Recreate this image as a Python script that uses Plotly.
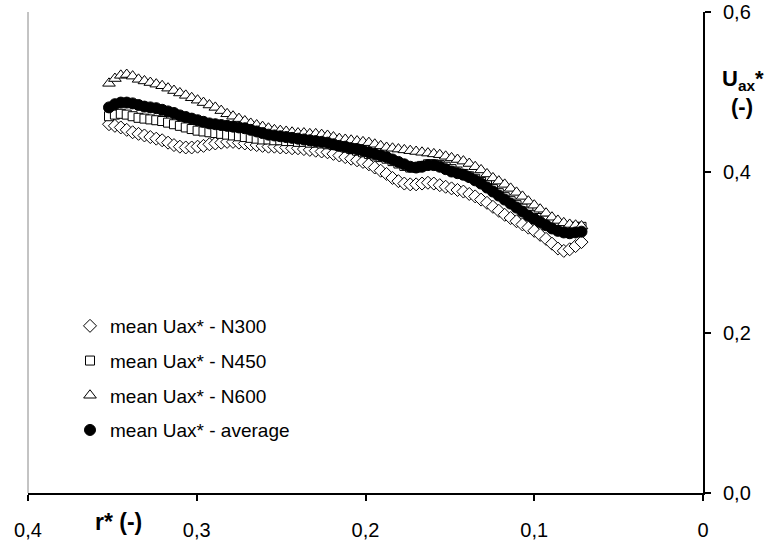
import plotly.graph_objects as go

# radial position r* (-)
r_star = [0.352, 0.3485, 0.345, 0.3415, 0.338, 0.3345, 0.331, 0.3275, 0.324, 0.3205,
          0.317, 0.3135, 0.310, 0.3065, 0.303, 0.2995, 0.296, 0.2925, 0.289, 0.2855,
          0.282, 0.2785, 0.275, 0.2715, 0.268, 0.2645, 0.261, 0.2575, 0.254, 0.2505,
          0.247, 0.2435, 0.240, 0.2365, 0.233, 0.2295, 0.226, 0.2225, 0.219, 0.2155,
          0.212, 0.2085, 0.205, 0.2015, 0.198, 0.1945, 0.191, 0.1875, 0.184, 0.1805,
          0.177, 0.1735, 0.170, 0.1665, 0.163, 0.1595, 0.156, 0.1525, 0.149, 0.1455,
          0.142, 0.1385, 0.135, 0.1315, 0.128, 0.1245, 0.121, 0.1175, 0.114, 0.1105,
          0.107, 0.1035, 0.100, 0.0965, 0.093, 0.0895, 0.086, 0.0825, 0.079, 0.0755,
          0.072]

u_n300 = [0.460, 0.458, 0.456, 0.453, 0.450, 0.448, 0.446, 0.444, 0.442, 0.440,
          0.437, 0.434, 0.432, 0.431, 0.431, 0.432, 0.433, 0.435, 0.436, 0.437,
          0.438, 0.438, 0.437, 0.436, 0.435, 0.434, 0.433, 0.432, 0.432, 0.431,
          0.431, 0.430, 0.430, 0.429, 0.428, 0.427, 0.426, 0.425, 0.423, 0.421,
          0.419, 0.417, 0.415, 0.413, 0.410, 0.406, 0.402, 0.398, 0.393, 0.389,
          0.386, 0.385, 0.385, 0.386, 0.387, 0.386, 0.384, 0.382, 0.380, 0.378,
          0.376, 0.373, 0.370, 0.366, 0.362, 0.357, 0.352, 0.347, 0.343, 0.339,
          0.335, 0.331, 0.327, 0.322, 0.317, 0.311, 0.305, 0.302, 0.304, 0.308,
          0.313]

u_n450 = [0.470, 0.472, 0.473, 0.472, 0.470, 0.468, 0.467, 0.466, 0.465, 0.464,
          0.462, 0.460, 0.458, 0.456, 0.454, 0.452, 0.451, 0.450, 0.449, 0.448,
          0.447, 0.446, 0.445, 0.444, 0.443, 0.442, 0.441, 0.441, 0.440, 0.440,
          0.439, 0.439, 0.438, 0.438, 0.437, 0.437, 0.436, 0.435, 0.434, 0.433,
          0.431, 0.429, 0.427, 0.425, 0.423, 0.421, 0.419, 0.417, 0.414, 0.411,
          0.408, 0.406, 0.406, 0.408, 0.410, 0.410, 0.409, 0.407, 0.404, 0.401,
          0.398, 0.395, 0.392, 0.388, 0.384, 0.379, 0.374, 0.369, 0.364, 0.359,
          0.355, 0.351, 0.347, 0.343, 0.340, 0.337, 0.335, 0.333, 0.332, 0.332,
          0.332]

u_n600 = [0.511, 0.517, 0.521, 0.522, 0.520, 0.516, 0.514, 0.512, 0.510, 0.508,
          0.505, 0.502, 0.499, 0.496, 0.493, 0.490, 0.487, 0.484, 0.481, 0.477,
          0.473, 0.470, 0.467, 0.464, 0.461, 0.459, 0.457, 0.455, 0.453, 0.452,
          0.451, 0.450, 0.449, 0.449, 0.448, 0.448, 0.447, 0.446, 0.444, 0.442,
          0.441, 0.440, 0.439, 0.438, 0.437, 0.435, 0.433, 0.431, 0.430, 0.429,
          0.428, 0.427, 0.426, 0.425, 0.424, 0.423, 0.422, 0.420, 0.418, 0.416,
          0.414, 0.411, 0.407, 0.403, 0.398, 0.393, 0.389, 0.385, 0.380, 0.375,
          0.370, 0.364, 0.359, 0.354, 0.349, 0.344, 0.340, 0.337, 0.335, 0.334,
          0.333]

u_avg = [0.481, 0.485, 0.487, 0.487, 0.486, 0.484, 0.482, 0.481, 0.480, 0.478,
         0.476, 0.474, 0.471, 0.469, 0.467, 0.465, 0.463, 0.461, 0.460, 0.459,
         0.458, 0.457, 0.456, 0.455, 0.453, 0.451, 0.449, 0.447, 0.446, 0.445,
         0.444, 0.443, 0.442, 0.441, 0.440, 0.439, 0.438, 0.437, 0.435, 0.433,
         0.432, 0.430, 0.429, 0.427, 0.425, 0.423, 0.421, 0.419, 0.416, 0.413,
         0.410, 0.407, 0.406, 0.407, 0.409, 0.409, 0.407, 0.404, 0.401, 0.399,
         0.397, 0.394, 0.390, 0.386, 0.381, 0.376, 0.371, 0.366, 0.361, 0.356,
         0.351, 0.346, 0.342, 0.338, 0.334, 0.330, 0.327, 0.325, 0.324, 0.325,
         0.326]

x_ticks = [0.4, 0.3, 0.2, 0.1, 0.0]
x_tick_text = ["0,4", "0,3", "0,2", "0,1", "0"]
y_ticks = [0.0, 0.2, 0.4, 0.6]
y_tick_text = ["0,0", "0,2", "0,4", "0,6"]

series = [
    ("mean Uax* - N300", u_n300, "diamond", 10, "white"),
    ("mean Uax* - N450", u_n450, "square", 9, "white"),
    ("mean Uax* - N600", u_n600, "triangle-up", 11, "white"),
    ("mean Uax* - average", u_avg, "circle", 11, "black"),
]

FONT = "Liberation Sans, Arial, sans-serif"

fig = go.Figure()
for i, (name, vals, sym, size, fill) in enumerate(series):
    fig.add_trace(go.Scatter(
        x=r_star, y=vals, mode="markers", name=name,
        legendgroup=f"g{i}",
        marker=dict(symbol=sym, size=size, color=fill,
                    line=dict(color="black", width=1)),
    ))

fig.update_layout(
    width=766, height=542,
    margin=dict(l=28, r=63, t=12, b=49),
    paper_bgcolor="white", plot_bgcolor="white",
    font=dict(family=FONT, size=19, color="black"),
    showlegend=True,
    legend=dict(
        x=(70 - 28) / 675, y=(493 - 307) / 481, xanchor="left", yanchor="top",
        bgcolor="rgba(0,0,0,0)", borderwidth=0,
        font=dict(family=FONT, size=19, color="black"),
        traceorder="grouped", tracegroupgap=7,
        itemwidth=30,
    ),
    xaxis=dict(
        range=[0.4, 0.0], tickvals=x_ticks, ticktext=x_tick_text,
        showgrid=False, zeroline=False, automargin=False,
        showline=True, linecolor="black", linewidth=2,
        ticks="outside", ticklen=6, tickwidth=2, tickcolor="black",
        ticklabelstandoff=12,
        tickfont=dict(family=FONT, size=20),
    ),
    yaxis=dict(
        range=[0.0, 0.6], side="right", tickvals=y_ticks, ticktext=y_tick_text,
        showgrid=False, zeroline=False, automargin=False,
        showline=True, linecolor="black", linewidth=2,
        ticks="outside", ticklen=6, tickwidth=2, tickcolor="black",
        ticklabelstandoff=8,
        tickfont=dict(family=FONT, size=20),
    ),
    shapes=[dict(type="line", xref="paper", yref="paper", x0=0, x1=0, y0=0, y1=1,
                 line=dict(color="#888888", width=1))],
    annotations=[
        dict(text="<b>r* (-)</b>", xref="paper", yref="paper",
             x=(118 - 28) / 675, y=(493 - 522) / 481, xanchor="center", yanchor="middle",
             showarrow=False, font=dict(family=FONT, size=23)),
        dict(text="<b>U<sub>ax</sub>*</b>", xref="paper", yref="paper",
             x=1.0 + (743 - 703) / 675, y=(493 - 80) / 481, xanchor="center",
             yanchor="middle", showarrow=False, font=dict(family=FONT, size=22)),
        dict(text="<b>(-)</b>", xref="paper", yref="paper",
             x=1.0 + (742 - 703) / 675, y=(493 - 107) / 481, xanchor="center",
             yanchor="middle", showarrow=False, font=dict(family=FONT, size=22)),
    ],
)

fig.write_html("out.html")
